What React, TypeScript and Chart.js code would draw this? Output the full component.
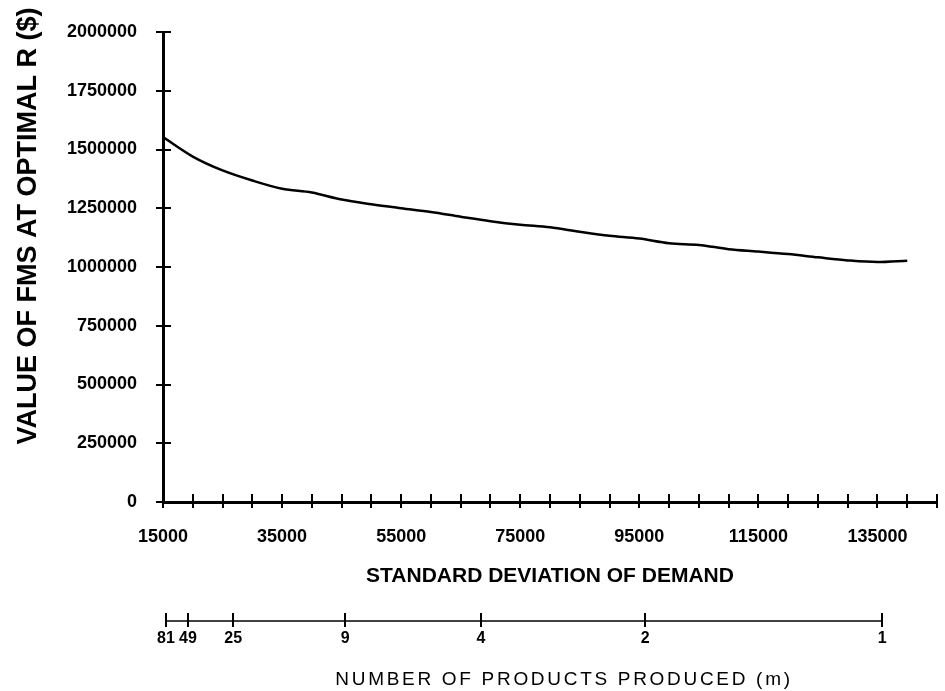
import React, { useEffect, useRef } from 'react';
import { Chart, registerables } from 'chart.js';

Chart.register(...registerables);

// Standard deviation of demand (x) and value of FMS at optimal R (y)
const sigma = [
  15000, 20000, 25000, 30000, 35000, 40000, 45000, 50000, 55000, 60000,
  65000, 70000, 75000, 80000, 85000, 90000, 95000, 100000, 105000, 110000,
  115000, 120000, 125000, 130000, 135000, 140000,
];
const fmsValue = [
  1553000, 1470000, 1411000, 1368000, 1333000, 1317000, 1287000, 1267000, 1250000, 1234000,
  1214000, 1195000, 1180000, 1169000, 1150000, 1133000, 1121000, 1101000, 1094000, 1076000,
  1066000, 1055000, 1041000, 1028000, 1021000, 1027000,
];

// Main x axis tick labels (every 20000), minor ticks every 5000
const xLabelValues = [15000, 35000, 55000, 75000, 95000, 115000, 135000];
const xMin = 15000;
const xMax = 145000;
const xStep = 5000;

// Y axis
const yMin = 0;
const yMax = 2000000;
const yStep = 250000;

// Secondary axis: number of products produced (m) and matching std. deviation position
const productCounts = ['81', '49', '25', '9', '4', '2', '1'];
const productSigma = [15500, 19200, 26800, 45600, 68400, 96000, 135800];

const FONT = "'Liberation Sans', Arial, Helvetica, sans-serif";

const axisMarks = {
  id: 'axisMarks',
  afterLayout(chart: any) {
    const y = chart.scales.y;
    const x2 = chart.scales.x2;
    if (y) {
      const proto = Object.getPrototypeOf(y);
      y.drawTitle = function () {
        const ctx = this.ctx;
        ctx.save();
        ctx.translate(0, -41);
        proto.drawTitle.call(this);
        ctx.restore();
      };
    }
    if (x2) {
      const proto2 = Object.getPrototypeOf(x2);
      x2.drawTitle = function () {
        const ctx = this.ctx;
        ctx.save();
        try { (ctx as any).letterSpacing = '2.7px'; } catch (e) {}
        ctx.translate(14, 0);
        proto2.drawTitle.call(this);
        ctx.restore();
      };
    }
  },
  afterDraw(chart: any) {
    const { ctx, chartArea } = chart;
    const { x, y, x2 } = chart.scales;
    ctx.save();
    ctx.strokeStyle = '#000';
    ctx.lineWidth = 2;
    ctx.beginPath();
    y.ticks.forEach((t: any) => {
      const py = Math.round(y.getPixelForValue(t.value));
      ctx.moveTo(chartArea.left - 7, py);
      ctx.lineTo(chartArea.left + 8, py);
    });
    x.ticks.forEach((t: any) => {
      const px = Math.round(x.getPixelForValue(t.value));
      ctx.moveTo(px, chartArea.bottom - 8);
      ctx.lineTo(px, chartArea.bottom + 6);
    });
    ctx.stroke();

    // secondary axis line and ticks
    const ly = x2.top + 28;
    ctx.lineWidth = 1.6;
    ctx.beginPath();
    ctx.moveTo(x2.getPixelForValue(productSigma[0]), ly);
    ctx.lineTo(x2.getPixelForValue(productSigma[productSigma.length - 1]), ly);
    ctx.stroke();
    ctx.lineWidth = 2;
    ctx.beginPath();
    x2.ticks.forEach((t: any) => {
      const px = Math.round(x2.getPixelForValue(t.value));
      ctx.moveTo(px, ly - 8);
      ctx.lineTo(px, ly + 6);
    });
    ctx.stroke();
    ctx.restore();
  },
};

export default function App() {
  const canvasRef = useRef<HTMLCanvasElement | null>(null);

  useEffect(() => {
    const canvas = canvasRef.current;
    if (!canvas) return;
    Chart.defaults.font.family = FONT;
    Chart.defaults.color = '#000';

    const chart = new Chart(canvas, {
      type: 'line',
      data: {
        datasets: [
          {
            data: sigma.map((s, i) => ({ x: s, y: fmsValue[i] })),
            borderColor: '#000',
            borderWidth: 2.5,
            pointRadius: 0,
            fill: false,
            cubicInterpolationMode: 'monotone',
          },
        ],
      },
      options: {
        responsive: false,
        animation: false,
        devicePixelRatio: 1,
        layout: { padding: { left: 0, top: 32, right: 8, bottom: 0 } },
        plugins: {
          legend: { display: false },
          tooltip: { enabled: false },
        },
        scales: {
          x: {
            type: 'linear',
            position: 'bottom',
            weight: 0,
            min: xMin,
            max: xMax,
            grid: { display: false, drawTicks: true, tickLength: 24 },
            border: { display: true, color: '#000', width: 3 },
            ticks: {
              stepSize: xStep,
              autoSkip: false,
              maxRotation: 0,
              minRotation: 0,
              padding: 0,
              color: '#000',
              font: { family: FONT, size: 18, weight: 'bold' },
              callback: (v: any) => (xLabelValues.includes(Number(v)) ? String(v) : ''),
            },
            title: {
              display: true,
              text: 'STANDARD DEVIATION OF DEMAND',
              color: '#000',
              font: { family: FONT, size: 21, weight: 'bold' },
              padding: { top: 0, bottom: 4 },
            },
            afterFit: (scale: any) => {
              scale.height = 91;
            },
          },
          x2: {
            type: 'linear',
            position: 'bottom',
            weight: 1,
            min: xMin,
            max: xMax,
            grid: { display: false, drawTicks: true, tickLength: 36 },
            border: { display: false },
            afterBuildTicks: (scale: any) => {
              scale.ticks = productSigma.map((v) => ({ value: v }));
            },
            ticks: {
              autoSkip: false,
              maxRotation: 0,
              minRotation: 0,
              padding: 0,
              color: '#000',
              font: { family: FONT, size: 16, weight: 'bold' },
              callback: (_v: any, i: number) => productCounts[i],
            },
            title: {
              display: true,
              text: 'NUMBER OF PRODUCTS PRODUCED (m)',
              color: '#000',
              font: { family: FONT, size: 19, weight: 'normal' },
              padding: { top: 0, bottom: 0 },
            },
            afterFit: (scale: any) => {
              scale.height = 98;
            },
          },
          y: {
            type: 'linear',
            min: yMin,
            max: yMax,
            grid: { display: false, drawTicks: true, tickLength: 26 },
            border: { display: true, color: '#000', width: 3 },
            ticks: {
              stepSize: yStep,
              padding: 0,
              color: '#000',
              font: { family: FONT, size: 18, weight: 'bold' },
              callback: (v: any) => String(v),
            },
            title: {
              display: true,
              text: 'VALUE OF FMS AT OPTIMAL R ($)',
              color: '#000',
              font: { family: FONT, size: 27, weight: 'bold' },
              padding: { top: 12, bottom: 0 },
            },
            afterFit: (scale: any) => {
              scale.width = 163;
            },
          },
        },
      } as any,
      plugins: [axisMarks as any],
    });

    return () => {
      chart.destroy();
    };
  }, []);

  return (
    <div style={{ position: 'absolute', left: 0, top: 0, width: 945, height: 691, background: '#fff' }}>
      <canvas ref={canvasRef} width={945} height={691} style={{ display: 'block' }} />
    </div>
  );
}
